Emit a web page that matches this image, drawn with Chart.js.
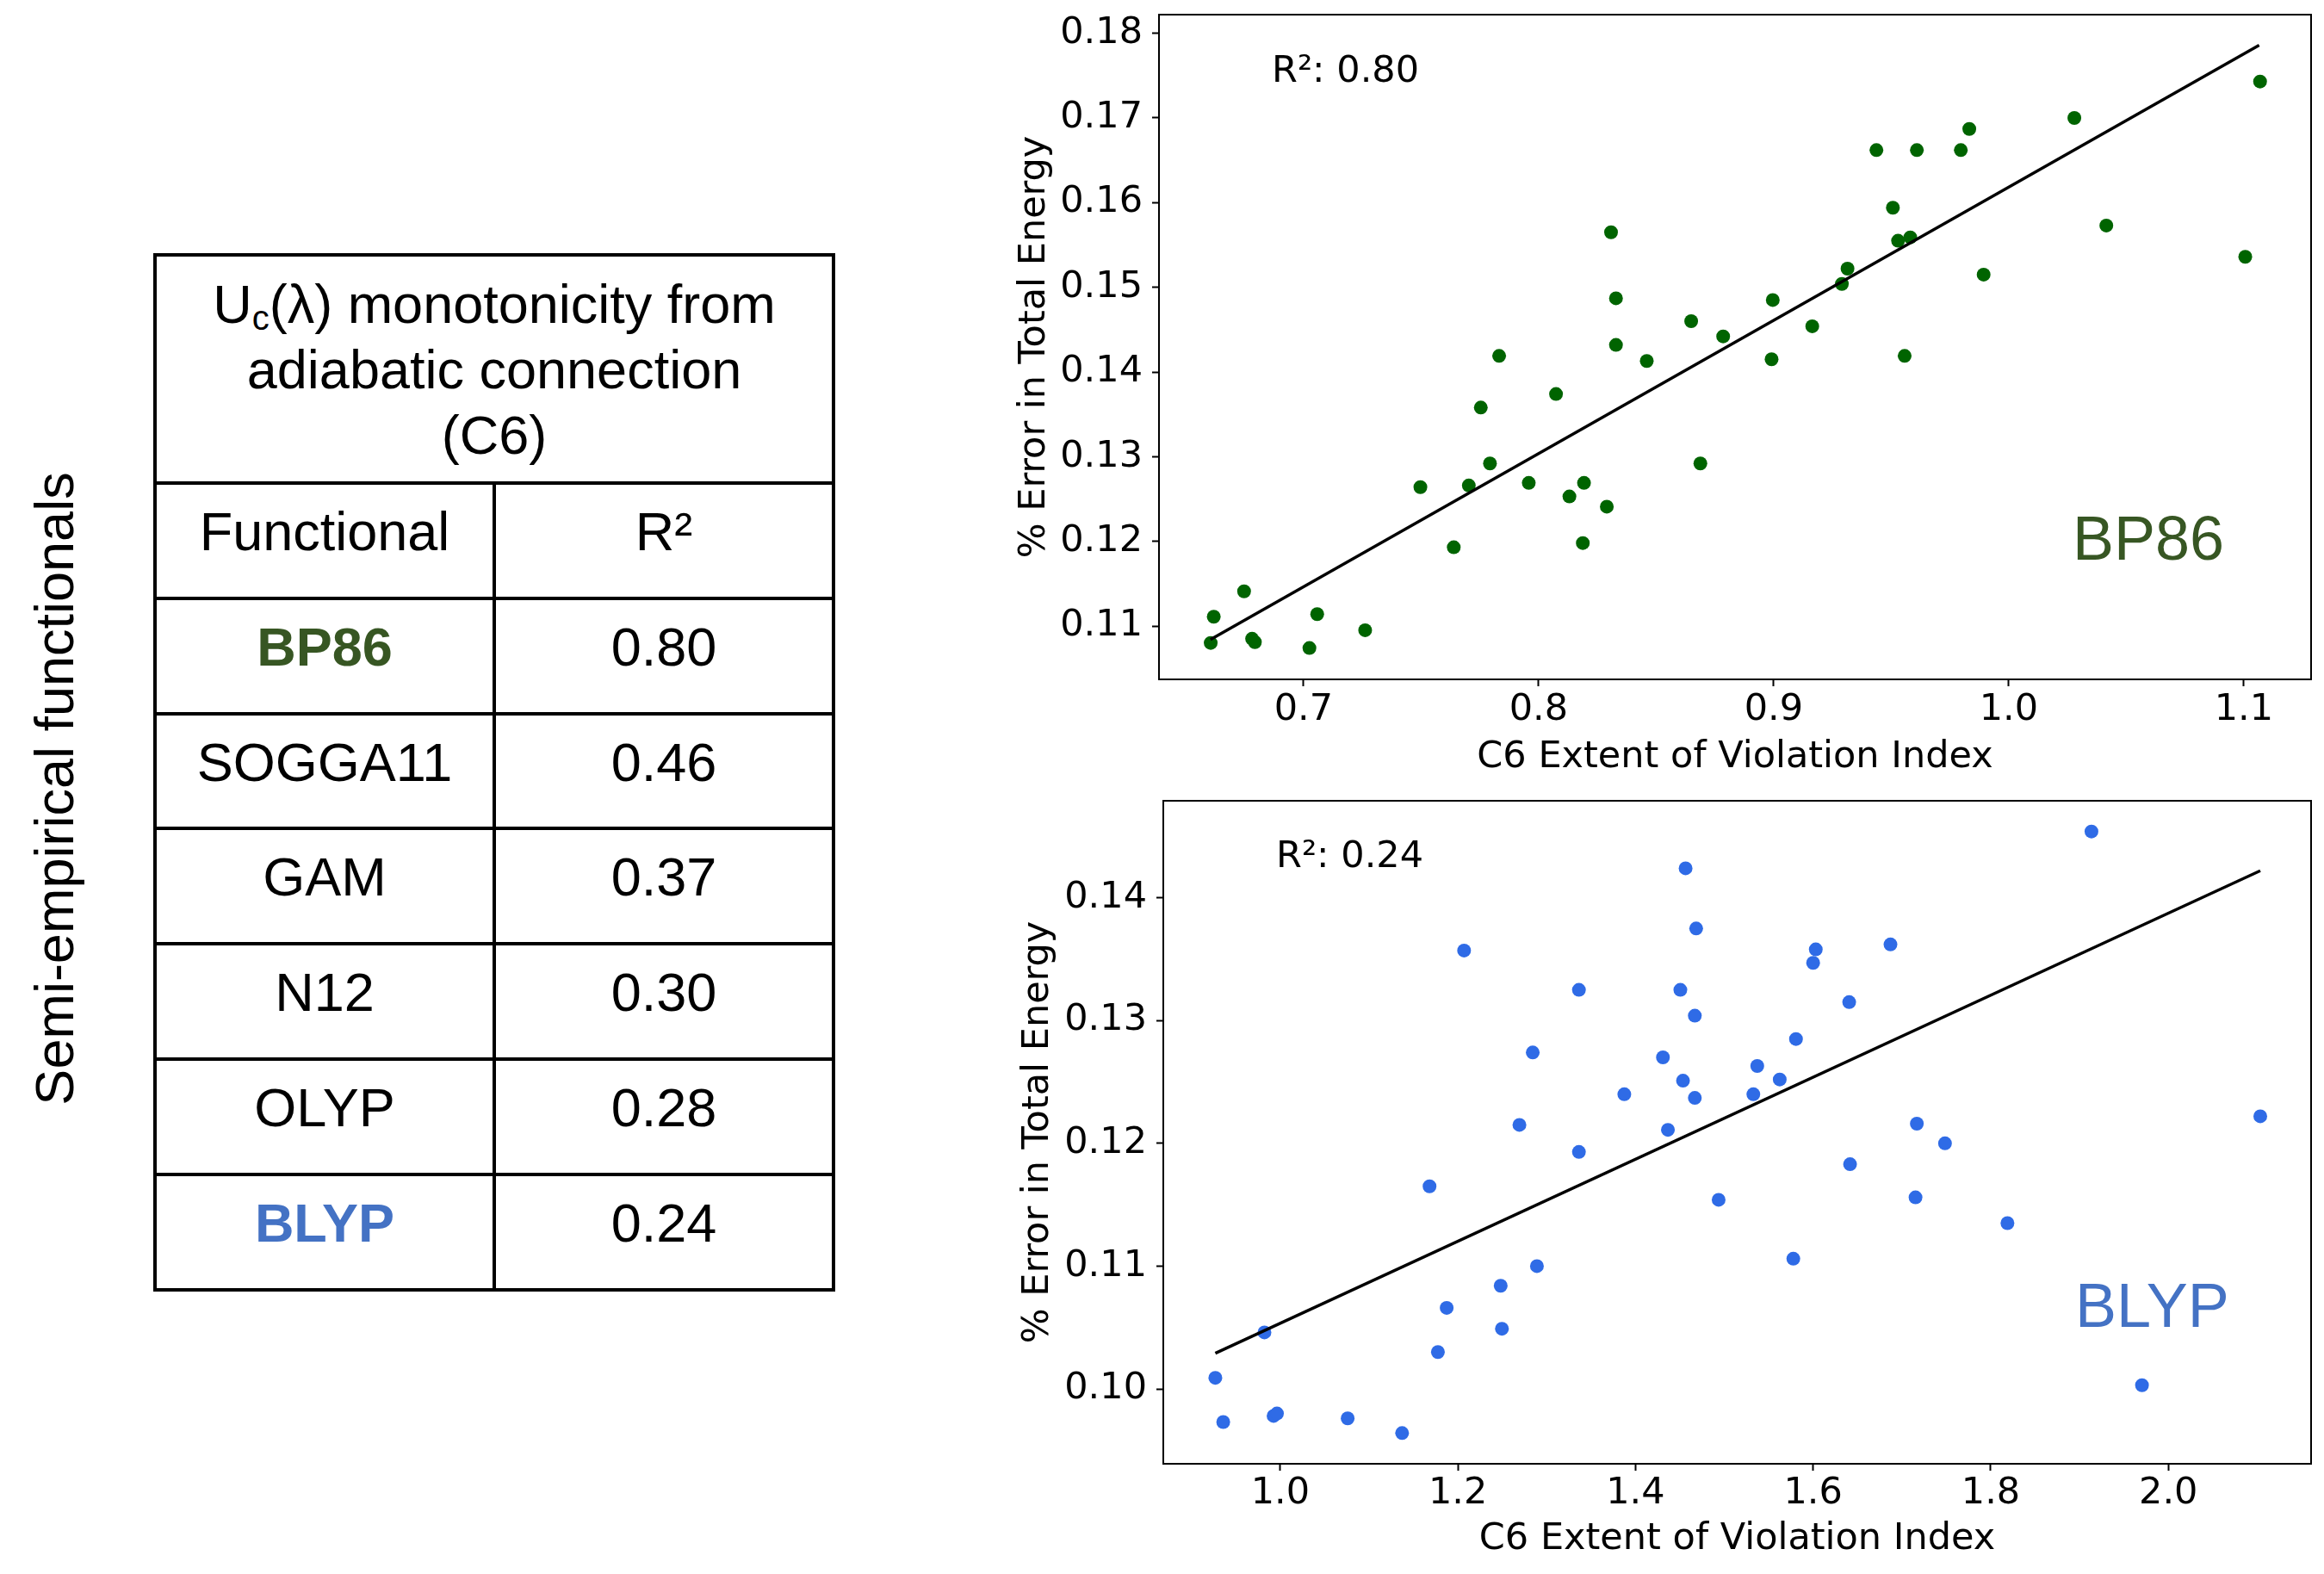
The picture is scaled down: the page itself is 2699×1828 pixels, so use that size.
<!DOCTYPE html>
<html>
<head>
<meta charset="utf-8">
<script src="https://cdn.jsdelivr.net/npm/chart.js@4.4.1/dist/chart.umd.min.js"></script>
<style>
  body { margin: 0; background: #fff; width: 2699px; height: 1828px; position: relative; overflow: hidden;
         font-family: "Liberation Sans", Arial, sans-serif; color: #000; }
  canvas { position: absolute; }
  #topChart { left: 1176px; top: 0px; }
  #bottomChart { left: 1180px; top: 900px; }
  #side { position: absolute; left: 63px; top: 916px; transform: translate(-50%, -50%) rotate(-90deg);
          font-size: 63px; line-height: 63px; white-space: nowrap; }
  .line { position: absolute; background: #000; }
  .cell { position: absolute; transform: translate(-50%, -50%); font-size: 63px; line-height: 63px;
          white-space: nowrap; text-align: center; }
  #header { line-height: 76px; }
  #header sub { font-size: 40px; line-height: 0; vertical-align: -8px; }
</style>
</head>
<body>
<div id="side">Semi-empirical functionals</div>
<div id="table"></div>
<canvas id="topChart" width="1523" height="900"></canvas>
<canvas id="bottomChart" width="1519" height="928"></canvas>
<script>
// table values
const functionals = ['BP86', 'SOGGA11', 'GAM', 'N12', 'OLYP', 'BLYP'];
const r2Values = [0.80, 0.46, 0.37, 0.30, 0.28, 0.24];

// BP86 scatter
const bp86X = [0.6605, 0.6618, 0.6747, 0.6781, 0.6793, 0.7025, 0.7058, 0.7262, 0.7497, 0.7639,
  0.7703, 0.7754, 0.7793, 0.7832, 0.7958, 0.8074, 0.8131, 0.8193, 0.8188, 0.8290,
  0.8308, 0.8329, 0.8329, 0.8460, 0.8649, 0.8688, 0.8785, 0.8991, 0.8996, 0.9164,
  0.9290, 0.9314, 0.9437, 0.9507, 0.9529, 0.9557, 0.9581, 0.9609, 0.9796, 0.9832,
  0.9893, 1.0279, 1.0415, 1.1006, 1.1069];
const bp86Y = [0.1080, 0.1111, 0.1141, 0.1085, 0.1081, 0.1074, 0.1114, 0.1095, 0.1264, 0.1193,
  0.1266, 0.1358, 0.1292, 0.1419, 0.1269, 0.1374, 0.1253, 0.1269, 0.1198, 0.1241,
  0.1565, 0.1487, 0.1432, 0.1413, 0.1460, 0.1292, 0.1442, 0.1415, 0.1485, 0.1454,
  0.1504, 0.1522, 0.1662, 0.1594, 0.1555, 0.1419, 0.1559, 0.1662, 0.1662, 0.1687,
  0.1515, 0.1700, 0.1573, 0.1536, 0.1743];
const bp86FitX = [0.6604, 1.1065];
const bp86FitY = [0.1084, 0.1786];

// BLYP scatter
const blypX = [0.9269, 0.9358, 0.9822, 0.9925, 0.9963, 1.0759, 1.1372, 1.1681, 1.1775, 1.1874,
  1.2070, 1.2482, 1.2496, 1.2693, 1.2843, 1.2890, 1.3363, 1.3363, 1.3874, 1.4309,
  1.4365, 1.4564, 1.4683, 1.4505, 1.4668, 1.4535, 1.4668, 1.4936, 1.5327, 1.5371,
  1.5624, 1.5807, 1.5777, 1.6000, 1.6030, 1.6406, 1.6416, 1.6871, 1.7168, 1.7153,
  1.7485, 1.8188, 1.9134, 1.9703, 2.1035];
const blypY = [0.1009, 0.0973, 0.1046, 0.0978, 0.0980, 0.0976, 0.0964, 0.1165, 0.1030, 0.1066,
  0.1357, 0.1084, 0.1049, 0.1215, 0.1274, 0.1100, 0.1325, 0.1193, 0.1240, 0.1270,
  0.1211, 0.1424, 0.1375, 0.1325, 0.1304, 0.1251, 0.1237, 0.1154, 0.1240, 0.1263,
  0.1252, 0.1285, 0.1106, 0.1347, 0.1358, 0.1315, 0.1183, 0.1362, 0.1216, 0.1156,
  0.1200, 0.1135, 0.1454, 0.1003, 0.1222];
const blypFitX = [0.9269, 2.1035];
const blypFitY = [0.1029, 0.1422];

// tick labels
const bp86XTicks = [0.7, 0.8, 0.9, 1.0, 1.1];
const bp86YTicks = [0.11, 0.12, 0.13, 0.14, 0.15, 0.16, 0.17, 0.18];
const blypXTicks = [1.0, 1.2, 1.4, 1.6, 1.8, 2.0];
const blypYTicks = [0.10, 0.11, 0.12, 0.13, 0.14];

// ---- table ----
function buildTable() {
  const t = document.getElementById('table');
  const left = 180, right = 968, mid = 574, top = 296, headBottom = 561, rowH = 133.8, lw = 4;
  // one row of column heads plus one row per functional
  const bottom = headBottom + rowH * (functionals.length + 1);
  function hline(y, x0, x1) {
    const d = document.createElement('div');
    d.className = 'line';
    d.style.cssText = `left:${x0 - lw / 2}px;top:${y - lw / 2}px;width:${x1 - x0 + lw}px;height:${lw}px`;
    t.appendChild(d);
  }
  function vline(x, y0, y1) {
    const d = document.createElement('div');
    d.className = 'line';
    d.style.cssText = `left:${x - lw / 2}px;top:${y0 - lw / 2}px;width:${lw}px;height:${y1 - y0 + lw}px`;
    t.appendChild(d);
  }
  function cell(html, x, y, style) {
    const d = document.createElement('div');
    d.className = 'cell';
    d.innerHTML = html;
    d.style.left = x + 'px';
    d.style.top = y + 'px';
    if (style) Object.assign(d.style, style);
    t.appendChild(d);
    return d;
  }
  hline(top, left, right);
  hline(headBottom, left, right);
  vline(left, top, bottom);
  vline(right, top, bottom);
  vline(mid, headBottom, bottom);

  const h = cell('U<sub>c</sub>(λ) monotonicity from<br>adiabatic connection<br>(C6)', (left + right) / 2, 429);
  h.id = 'header';

  const c1 = (left + mid) / 2, c2 = (mid + right) / 2;
  cell('Functional', c1, headBottom + rowH / 2 - 11);
  cell('R²', c2, headBottom + rowH / 2 - 11);
  hline(headBottom + rowH, left, right);

  functionals.forEach((name, i) => {
    const y0 = headBottom + rowH * (i + 1);
    const cy = y0 + rowH / 2 - 11;
    let style = null;
    if (name === 'BP86') style = { fontWeight: 'bold', color: '#375623' };
    if (name === 'BLYP') style = { fontWeight: 'bold', color: '#4472C4' };
    cell(name, c1, cy, style);
    cell(r2Values[i].toFixed(2), c2, cy);
    hline(y0 + rowH, left, right);
  });
}
buildTable();

// ---- charts ----
Chart.defaults.font.family = '"DejaVu Sans", sans-serif';
Chart.defaults.color = '#000';

const framePlugin = {
  id: 'frame',
  afterDraw(chart, args, opts) {
    const { ctx, chartArea: a } = chart;
    ctx.save();
    ctx.strokeStyle = '#000';
    ctx.lineWidth = 2;
    ctx.strokeRect(a.left, a.top, a.right - a.left, a.bottom - a.top);
    ctx.fillStyle = '#000';
    ctx.textBaseline = 'alphabetic';
    ctx.textAlign = 'left';
    ctx.font = '43px "DejaVu Sans"';
    ctx.fillText(opts.r2Text, a.left + opts.r2Dx, a.top + opts.r2Dy);
    ctx.fillStyle = opts.labelColor;
    ctx.font = '72px "Liberation Sans"';
    ctx.fillText(opts.label, a.left + opts.labelDx, a.top + opts.labelDy);
    ctx.restore();
  }
};

function toPoints(xs, ys) {
  return xs.map((x, i) => ({ x: x, y: ys[i] }));
}

function makeChart(id, s) {
  const ctx = document.getElementById(id).getContext('2d');
  return new Chart(ctx, {
    type: 'scatter',
    data: {
      datasets: [{
        data: toPoints(s.fitX, s.fitY),
        showLine: true,
        borderColor: '#000',
        borderWidth: 3.5,
        pointRadius: 0
      }, {
        data: toPoints(s.x, s.y),
        backgroundColor: s.dotColor,
        borderWidth: 0,
        pointRadius: 8
      }]
    },
    options: {
      responsive: false,
      animation: false,
      devicePixelRatio: 1,
      layout: { padding: { top: s.padTop, right: s.padRight, left: 0, bottom: 0 } },
      plugins: {
        legend: { display: false },
        tooltip: { enabled: false },
        frame: s.frame
      },
      scales: {
        x: {
          type: 'linear',
          min: s.xMin, max: s.xMax,
          afterBuildTicks: sc => { sc.ticks = s.xTicks.map(v => ({ value: v })); },
          afterFit: sc => { sc.height = s.xAxisH; sc.paddingLeft = 0; sc.paddingRight = 0; },
          ticks: { font: { size: 43 }, padding: s.xTickPad, callback: v => v.toFixed(1), maxRotation: 0 },
          grid: { drawOnChartArea: false, drawTicks: true, tickLength: 8, tickColor: '#000', tickWidth: 2 },
          border: { display: true, color: '#000', width: 2 },
          title: { display: true, text: 'C6 Extent of Violation Index', font: { size: 43 },
                   padding: { top: 0, bottom: s.xTitlePad } }
        },
        y: {
          type: 'linear',
          min: s.yMin, max: s.yMax,
          afterBuildTicks: sc => { sc.ticks = s.yTicks.map(v => ({ value: v })); },
          afterFit: sc => { sc.width = s.yAxisW; sc.paddingTop = 0; sc.paddingBottom = 0; },
          ticks: { font: { size: 43 }, padding: 11, callback: v => v.toFixed(2) },
          grid: { drawOnChartArea: false, drawTicks: true, tickLength: 8, tickColor: '#000', tickWidth: 2 },
          border: { display: true, color: '#000', width: 2 },
          title: { display: true, text: '% Error in Total Energy', font: { size: 43 },
                   padding: { top: s.yTitlePad, bottom: 0 } }
        }
      }
    },
    plugins: [framePlugin]
  });
}

makeChart('topChart', {
  x: bp86X, y: bp86Y, fitX: bp86FitX, fitY: bp86FitY,
  xTicks: bp86XTicks, yTicks: bp86YTicks,
  xMin: 0.6385, xMax: 1.1286, yMin: 0.1037, yMax: 0.1822,
  dotColor: '#006400',
  padTop: 17, padRight: 15, yAxisW: 170, xAxisH: 111,
  xTickPad: 2, xTitlePad: -6, yTitlePad: 0,
  frame: { r2Text: 'R²: ' + r2Values[0].toFixed(2), r2Dx: 131, r2Dy: 78,
           label: functionals[0], labelColor: '#375623', labelDx: 1061, labelDy: 633 }
});

makeChart('bottomChart', {
  x: blypX, y: blypY, fitX: blypFitX, fitY: blypFitY,
  xTicks: blypXTicks, yTicks: blypYTicks,
  xMin: 0.8683, xMax: 2.1607, yMin: 0.0939, yMax: 0.1479,
  dotColor: '#2f6be6',
  padTop: 30, padRight: 15, yAxisW: 171, xAxisH: 128,
  xTickPad: 1, xTitlePad: 14, yTitlePad: 0,
  frame: { r2Text: 'R²: ' + r2Values[5].toFixed(2), r2Dx: 131, r2Dy: 77,
           label: functionals[5], labelColor: '#4472C4', labelDx: 1059, labelDy: 611 }
});
</script>
</body>
</html>
